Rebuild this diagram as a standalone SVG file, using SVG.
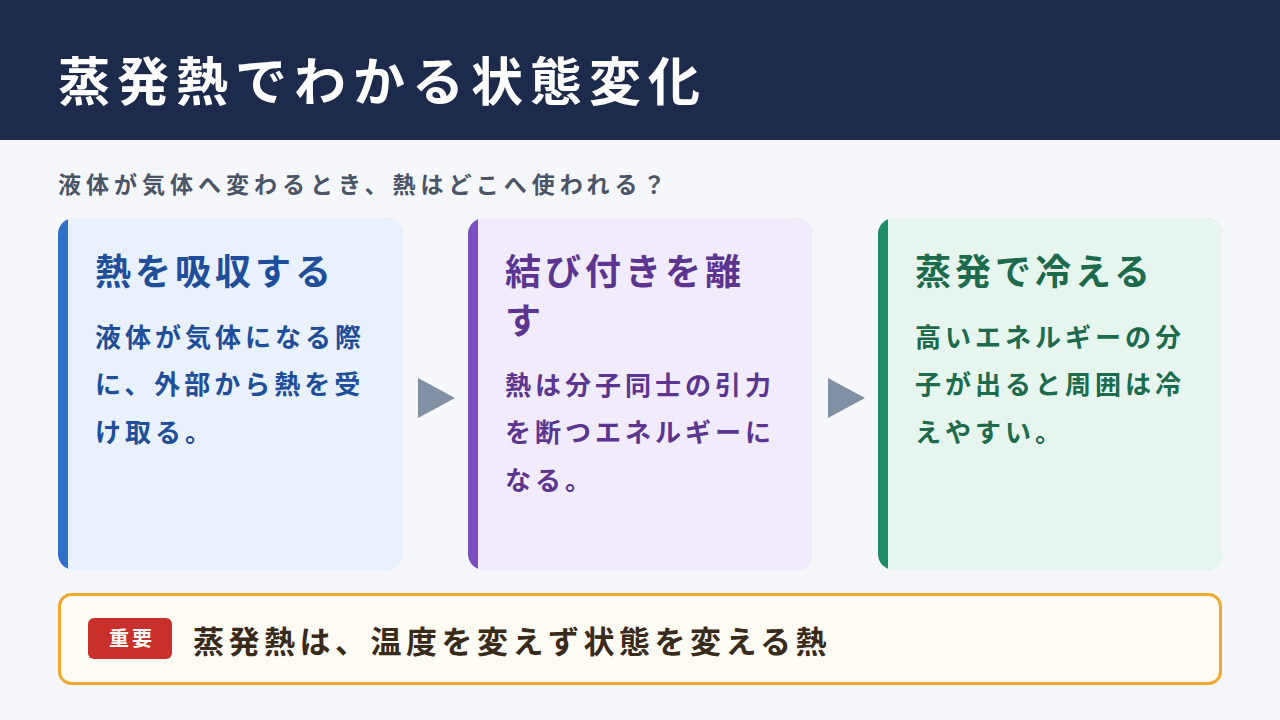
<svg xmlns="http://www.w3.org/2000/svg" width="1280" height="720" viewBox="0 0 1280 720">
<style>
text{font-family:"Noto Sans CJK JP","Noto Sans",sans-serif;font-weight:700}
.t{font-size:36px;letter-spacing:4px}.b{font-size:26px;letter-spacing:4px}
</style>
<rect width="1280" height="720" fill="#f5f7fb"/>
<rect width="1280" height="140" fill="#1c2a4b"/>
<text x="58" y="101" font-size="52" letter-spacing="7" fill="#fff">蒸発熱でわかる状態変化</text>
<text x="58" y="193" font-size="23" letter-spacing="5" fill="#4a5568">液体が気体へ変わるとき、熱はどこへ使われる？</text>
<g id="card1">
<rect x="58" y="218" width="344" height="352" rx="16" fill="#2f6fca"/>
<rect x="68" y="218" width="334" height="352" rx="14" fill="#e9f1fd"/>
<rect x="68" y="218" width="20" height="352" fill="#e9f1fd"/>
<text x="95" y="285" class="t" fill="#1f4e9a">熱を吸収する</text>
<text class="b" fill="#1f4e9a"><tspan x="95" y="347">液体が気体になる際</tspan><tspan x="95" y="394">に、外部から熱を受</tspan><tspan x="95" y="442">け取る。</tspan></text>
</g>
<g id="card2">
<rect x="468" y="218" width="344" height="352" rx="16" fill="#7a4fc0"/>
<rect x="478" y="218" width="334" height="352" rx="14" fill="#f2ebfc"/>
<rect x="478" y="218" width="20" height="352" fill="#f2ebfc"/>
<text class="t" fill="#5b3590"><tspan x="505" y="285">結び付きを離</tspan><tspan x="505" y="334">す</tspan></text>
<text class="b" fill="#5b3590"><tspan x="505" y="395">熱は分子同士の引力</tspan><tspan x="505" y="442">を断つエネルギーに</tspan><tspan x="505" y="490">なる。</tspan></text>
</g>
<g id="card3">
<rect x="878" y="218" width="344" height="352" rx="16" fill="#1f8a66"/>
<rect x="888" y="218" width="334" height="352" rx="14" fill="#e6f6ef"/>
<rect x="888" y="218" width="20" height="352" fill="#e6f6ef"/>
<text x="915" y="285" class="t" fill="#1c6b4c">蒸発で冷える</text>
<text class="b" fill="#1c6b4c"><tspan x="915" y="347">高いエネルギーの分</tspan><tspan x="915" y="394">子が出ると周囲は冷</tspan><tspan x="915" y="442">えやすい。</tspan></text>
</g>
<g id="connectors" fill="#8191a5">
<polygon points="418,378 455,398 418,418"/>
<polygon points="828,378 865,398 828,418"/>
</g>
<g id="note">
<rect x="59.5" y="594.5" width="1161" height="89" rx="12" fill="#fffcf3" stroke="#f0a830" stroke-width="3"/>
<rect x="88" y="618" width="84" height="41" rx="6" fill="#c8302c"/>
<text x="132" y="646" font-size="20" letter-spacing="3" fill="#fff" text-anchor="middle">重要</text>
<text x="193" y="653" font-size="31" letter-spacing="4.5" fill="#3a2a1a">蒸発熱は、温度を変えず状態を変える熱</text>
</g>
</svg>
